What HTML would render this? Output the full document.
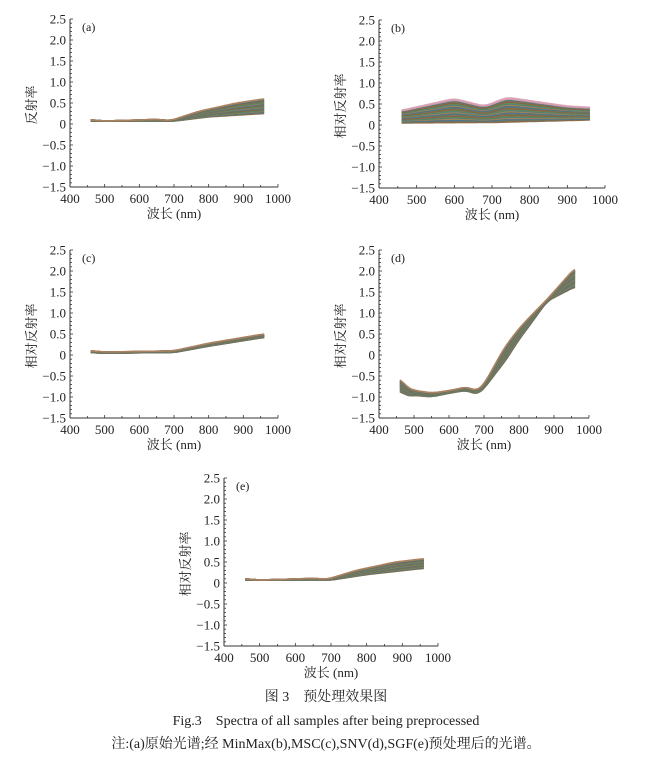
<!DOCTYPE html>
<html><head><meta charset="utf-8"><style>
html,body{margin:0;padding:0;background:#fff;width:653px;height:765px;overflow:hidden}
svg{display:block}
text{font-family:"Liberation Serif","Noto Serif CJK SC","Noto Sans CJK SC",serif;fill:#222}
</style></head><body>
<svg id="s" width="653" height="765" xmlns="http://www.w3.org/2000/svg">
<text x="326" y="701" font-size="14" text-anchor="middle">图 3　预处理效果图</text>
<text x="326" y="725" font-size="14" text-anchor="middle">Fig.3　Spectra of all samples after being preprocessed</text>
<text x="326" y="748" font-size="14" text-anchor="middle">注:(a)原始光谱;经 MinMax(b),MSC(c),SNV(d),SGF(e)预处理后的光谱。</text>
</svg>
<script>
var S=document.getElementById('s'),NS='http://www.w3.org/2000/svg';
function el(t,a,txt){var e=document.createElementNS(NS,t);for(var k in a)e.setAttribute(k,a[k]);if(txt)e.textContent=txt;S.appendChild(e);return e;}
function lin(pts,x){if(x<=pts[0][0])return pts[0][1];for(var i=0;i<pts.length-1;i++){if(x<=pts[i+1][0]){var t=(x-pts[i][0])/(pts[i+1][0]-pts[i][0]);return pts[i][1]+t*(pts[i+1][1]-pts[i][1]);}}return pts[pts.length-1][1];}
function interp(pts,x){var s=0,c=0;for(var d=-15;d<=15;d+=3){var xx=Math.min(960,Math.max(460,x+d));s+=lin(pts,xx);c++;}return s/c;}
var cols=['#8a6a3a','#4a7a6a','#3a6a8a','#9a7a4a','#6a8a5a','#b08060','#5a7a9a','#7a5a4a','#4a8a7a','#a08a50','#507060'];
function panel(ax,top,W,lab,ylab,ylx,lo,hi,topc){
 var H=168,X=function(n){return ax+(n-400)*W/600},Y=function(v){return top+(2.5-v)*H/4};
 var bot=top+H;
 var N=40;
 for(var j=0;j<=N;j++){var f=j/N,d='';
  for(var n=460;n<=960;n+=4){var v=interp(lo,n)+f*(interp(hi,n)-interp(lo,n));d+=(n==460?'M':'L')+X(n).toFixed(1)+','+Y(v).toFixed(1);}
  el('path',{d:d,fill:'none',stroke:(topc&&j>N-3)?topc:cols[(j*7)%cols.length],'stroke-width':1.6,'stroke-opacity':0.85});}
 el('line',{x1:ax,y1:top,x2:ax,y2:bot,stroke:'#333','stroke-width':1});
 el('line',{x1:ax,y1:bot,x2:ax+W,y2:bot,stroke:'#333','stroke-width':1});
 for(var v=-1.5;v<=2.501;v+=0.1){var y=Y(v),mj=Math.abs(v*2-Math.round(v*2))<0.01;
  el('line',{x1:ax,y1:y,x2:ax+(mj?3:2),y2:y,stroke:'#333','stroke-width':0.8});
  if(mj){var r=Math.round(v*10)/10;var s=r==0?'0':(r<0?'\u2212'+(-r).toFixed(1):r.toFixed(1));
   el('text',{x:ax-4,y:y+4.5,'font-size':13,'text-anchor':'end'},s);}}
 for(var n=400;n<=1000;n+=50){var x=X(n),mj=n%100==0;
  el('line',{x1:x,y1:bot,x2:x,y2:bot-(mj?3:2),stroke:'#333','stroke-width':0.8});
  if(mj)el('text',{x:x,y:bot+16,'font-size':13,'text-anchor':'middle'},n);}
 el('text',{x:ax+W/2,y:bot+31,'font-size':13,'text-anchor':'middle'},'波长 (nm)');
 el('text',{x:ax+12,y:top+12,'font-size':12},lab);
 el('text',{x:ylx,y:top+86,'font-size':13,'text-anchor':'middle',transform:'rotate(-90 '+ylx+' '+(top+86)+')'},ylab);
}
var aLo=[[460,0.07],[700,0.07],[800,0.17],[960,0.25]];
var aHi=[[460,0.1],[500,0.07],[650,0.11],[690,0.08],[770,0.3],[880,0.5],[960,0.6]];
panel(70,19,208,'(a)','反射率',36,aLo,aHi);
panel(379,20,226,'(b)','相对反射率',345,[[460,0.05],[700,0.06],[960,0.12]],[[460,0.35],[600,0.63],[680,0.45],[740,0.66],[900,0.45],[960,0.42]],'#d8a0b0');
panel(70,250,208,'(c)','相对反射率',36,[[460,0.06],[500,0.04],[650,0.06],[700,0.06],[800,0.21],[960,0.42]],[[460,0.1],[500,0.07],[650,0.09],[700,0.1],[800,0.28],[960,0.5]]);
var dC=[[460,-0.7],[480,-0.88],[550,-0.95],[600,-0.88],[650,-0.8],[680,-0.9],[700,-0.75],[750,-0.1],[800,0.5],[850,1.0],[880,1.3],[960,1.85]];
var dS=[[460,0.3],[500,0.12],[600,0.06],[700,0.1],[760,0.35],[830,0.2],[880,0.04],[960,0.45]];
var dLo=[],dHi=[];for(var n=460;n<=960;n+=10){var c=lin(dC,n),s=lin(dS,n)/2;dLo.push([n,c-s]);dHi.push([n,c+s]);}
panel(379,250,210,'(d)','相对反射率',345,dLo,dHi);
panel(224,478,214,'(e)','相对反射率',190,[[460,0.07],[700,0.07],[800,0.2],[960,0.35]],[[460,0.1],[500,0.07],[650,0.11],[690,0.09],[770,0.3],[880,0.5],[960,0.58]]);
</script>
</body></html>
